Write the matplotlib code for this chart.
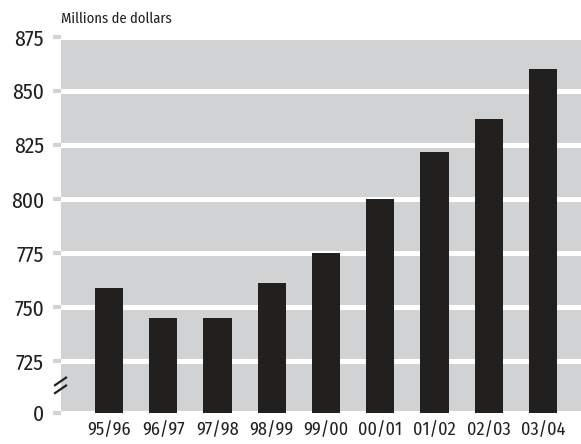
import numpy as np
import matplotlib
matplotlib.use("Agg")
import matplotlib.pyplot as plt

saisons = ["95/96", "96/97", "97/98", "98/99", "99/00", "00/01", "01/02", "02/03", "03/04"]
montants = [759, 745, 745, 761, 775, 800, 822, 837, 860]
graduations = [0, 725, 750, 775, 800, 825, 850, 875]

plt.rcParams['font.family'] = ['Fira Sans Condensed', 'DejaVu Sans']

# axe brise : 0..725 tasse sur une seule graduation
def aller(v):
    v = np.asarray(v, dtype=float)
    return np.where(v < 725, 701 + v * 24 / 725, v)

def retour(v):
    v = np.asarray(v, dtype=float)
    return np.where(v < 725, (v - 701) * 725 / 24, v)

fig = plt.figure(figsize=(5.81, 4.44), dpi=100)
ax = fig.add_axes([61 / 581, 31 / 444, 520 / 581, 376 / 444])
ax.set_facecolor("#d1d2d4")
ax.set_yscale("function", functions=(aller, retour))

x = np.arange(len(saisons))
ax.bar(x, montants, width=0.52, color="#221f1f", zorder=3)

ax.set_ylim(0, 875)
ax.set_xlim(-0.885, 8.70)
ax.set_yticks(graduations)
ax.set_yticklabels([str(g) for g in graduations], fontsize=15.5, color="#231f20")
ax.set_xticks(x)
ax.set_xticklabels(saisons, fontsize=13, color="#231f20")
ax.yaxis.grid(True, color="white", linewidth=3.6, zorder=1)
ax.set_axisbelow(True)
ax.tick_params(axis="y", length=5.8, width=3, color="#d1d2d4", pad=6.5)
ax.tick_params(axis="x", length=0, pad=6)
for s in ax.spines.values():
    s.set_visible(False)

# petites barres obliques de la coupure
for y0 in (0.074, 0.053):
    ax.plot([-0.0115, 0.0096], [y0, y0 + 0.020], transform=ax.transAxes,
            color="#231f20", lw=1.6, clip_on=False, zorder=5)

fig.text(61 / 581, 1 - 19 / 444, "Millions de dollars", fontsize=10.5,
         color="#231f20", va="center", ha="left")

fig.savefig("out.png", dpi=100)
